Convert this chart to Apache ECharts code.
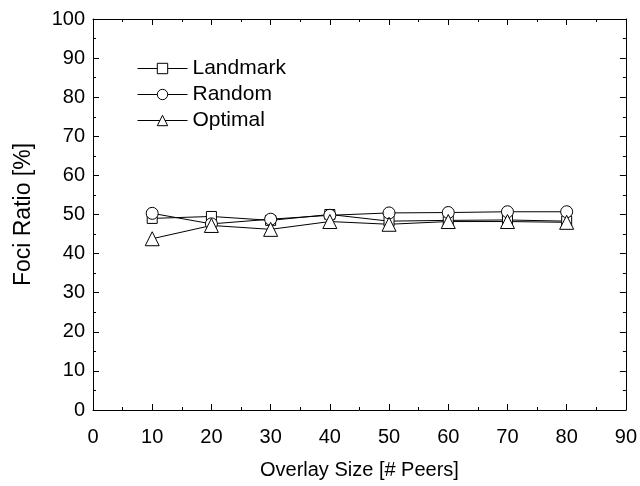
<!DOCTYPE html>
<html>
<head>
<meta charset="utf-8">
<script src="https://cdn.jsdelivr.net/npm/echarts@6/dist/echarts.min.js"></script>
<style>
  html, body { margin: 0; padding: 0; background: #fff; }
  #chart { width: 640px; height: 486px; }
</style>
</head>
<body>
<div id="chart"></div>
<script>
// overlay sizes (# peers)
const overlaySize = [10, 20, 30, 40, 50, 60, 70, 80]
// foci ratio [%]
const landmark = [49.0, 49.5, 48.5, 50.0, 48.3, 48.5, 48.6, 48.3]
const random = [50.3, 47.6, 48.8, 49.8, 50.4, 50.5, 50.7, 50.7]
const optimal = [43.8, 47.2, 46.2, 48.2, 47.5, 48.2, 48.2, 48.0]

const FONT = 'Liberation Sans, Arial, sans-serif'
const BLACK = '#000'

const chart = echarts.init(document.getElementById('chart'))

const pairs = arr => overlaySize.map((x, i) => [x, arr[i]])

const axisCommon = {
  axisLine: { show: true, onZero: false, lineStyle: { color: BLACK, width: 1 } },
  axisTick: { show: true, inside: true, length: 6, lineStyle: { color: BLACK } },
  minorTick: { show: true, splitNumber: 2, length: 3, lineStyle: { color: BLACK } },
  splitLine: { show: false },
}

const makeSeries = (name, data, symbol, size) => ({
  name,
  type: 'line',
  data: pairs(data),
  symbol,
  symbolSize: size,
  showAllSymbol: true,
  lineStyle: { color: BLACK, width: 1 },
  itemStyle: { color: '#fff', borderColor: BLACK, borderWidth: 1 },
  emphasis: { disabled: true },
  animation: false,
})

const legendItem = (name, top) => ({
  data: [name],
  left: 132,
  top,
  itemWidth: 50,
  itemHeight: 13,
  itemGap: 6,
  lineStyle: { width: 1, color: BLACK },
  itemStyle: { borderWidth: 1, borderColor: BLACK, color: '#fff' },
  textStyle: { fontFamily: FONT, fontSize: 21, color: BLACK },
})

chart.setOption({
  animation: false,
  backgroundColor: '#fff',
  grid: { left: 93, right: 14, top: 19, bottom: 76 },
  legend: [
    legendItem('Landmark', 53),
    legendItem('Random', 79),
    legendItem('Optimal', 105),
  ],
  xAxis: [
    {
      ...axisCommon,
      type: 'value',
      min: 0,
      max: 90,
      interval: 10,
      name: 'Overlay Size [# Peers]',
      nameLocation: 'middle',
      nameGap: 50,
      nameTextStyle: { fontFamily: FONT, fontSize: 20, color: BLACK },
      axisLabel: { fontFamily: FONT, fontSize: 20, color: BLACK, margin: 17 },
    },
    {
      ...axisCommon,
      type: 'value',
      position: 'top',
      min: 0,
      max: 90,
      interval: 10,
      axisLabel: { show: false },
    },
  ],
  yAxis: [
    {
      ...axisCommon,
      type: 'value',
      min: 0,
      max: 100,
      interval: 10,
      name: 'Foci Ratio [%]',
      nameLocation: 'middle',
      nameGap: 58,
      nameTextStyle: { fontFamily: FONT, fontSize: 23, color: BLACK },
      axisLabel: { fontFamily: FONT, fontSize: 20, color: BLACK, margin: 8 },
    },
    {
      ...axisCommon,
      type: 'value',
      position: 'right',
      min: 0,
      max: 100,
      interval: 10,
      axisLabel: { show: false },
    },
  ],
  series: [
    makeSeries('Landmark', landmark, 'rect', 10),
    makeSeries('Random', random, 'circle', 12),
    makeSeries('Optimal', optimal, 'triangle', 14),
  ],
})
</script>
</body>
</html>
